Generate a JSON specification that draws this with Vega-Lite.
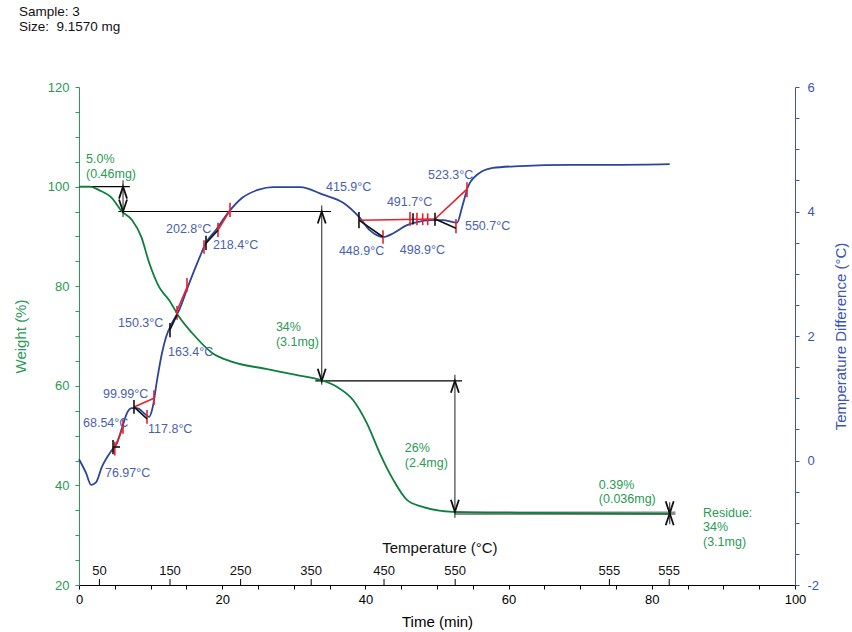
{
  "$schema": "https://vega.github.io/schema/vega-lite/v6.json",
  "width": 716,
  "height": 498,
  "autosize": {"type": "none"},
  "padding": {"left": 79, "top": 87, "right": 57, "bottom": 47},
  "background": "white",
  "config": {
    "view": {"stroke": null},
    "font": "Liberation Sans",
    "axis": {"grid": false, "labelFont": "Liberation Sans", "titleFont": "Liberation Sans", "titleFontWeight": "normal", "labelFontSize": 13, "titleFontSize": 15}
  },
  "datasets": {
    "weight": [
      {"t": 0, "w": 100}, {"t": 1.5, "w": 100}, {"t": 2.8, "w": 99.3}, {"t": 4.6, "w": 97.7}, {"t": 6.0, "w": 95.0},
      {"t": 7.4, "w": 93.3}, {"t": 8.7, "w": 89.9}, {"t": 9.8, "w": 84.7}, {"t": 11.2, "w": 79.8}, {"t": 12.6, "w": 77.2},
      {"t": 14.0, "w": 73.8}, {"t": 15.8, "w": 70.6}, {"t": 18.6, "w": 66.6}, {"t": 21.4, "w": 64.8}, {"t": 26.1, "w": 63.4},
      {"t": 30.3, "w": 62.2}, {"t": 33.9, "w": 61.1}, {"t": 36.0, "w": 59.8}, {"t": 38.3, "w": 57.1}, {"t": 40.2, "w": 52.5},
      {"t": 42.0, "w": 46.5}, {"t": 43.9, "w": 41.1}, {"t": 45.8, "w": 37.1}, {"t": 48.0, "w": 35.7}, {"t": 52.2, "w": 34.7},
      {"t": 61.6, "w": 34.5}, {"t": 82.5, "w": 34.3}
    ],
    "dta": [
      {"t": 0, "d": 0.02}, {"t": 0.98, "d": -0.2}, {"t": 1.68, "d": -0.39}, {"t": 2.37, "d": -0.35}, {"t": 3.21, "d": -0.1},
      {"t": 4.61, "d": 0.17}, {"t": 5.31, "d": 0.28}, {"t": 6.0, "d": 0.52}, {"t": 6.7, "d": 0.76}, {"t": 7.4, "d": 0.84},
      {"t": 8.1, "d": 0.84}, {"t": 9.08, "d": 0.76}, {"t": 9.78, "d": 0.7}, {"t": 10.3, "d": 0.86}, {"t": 10.9, "d": 1.29},
      {"t": 11.6, "d": 1.73}, {"t": 12.15, "d": 1.98}, {"t": 13.0, "d": 2.21}, {"t": 14.0, "d": 2.42}, {"t": 15.4, "d": 2.85},
      {"t": 16.8, "d": 3.25}, {"t": 17.7, "d": 3.49}, {"t": 19.1, "d": 3.7}, {"t": 20.9, "d": 3.99}, {"t": 22.8, "d": 4.22},
      {"t": 25.1, "d": 4.35}, {"t": 27.1, "d": 4.39}, {"t": 30.9, "d": 4.39}, {"t": 34.1, "d": 4.27}, {"t": 36.9, "d": 4.14},
      {"t": 39.2, "d": 3.9}, {"t": 40.6, "d": 3.7}, {"t": 42.5, "d": 3.59}, {"t": 43.9, "d": 3.65}, {"t": 45.8, "d": 3.78},
      {"t": 47.2, "d": 3.83}, {"t": 49.0, "d": 3.86}, {"t": 50.8, "d": 3.86}, {"t": 52.8, "d": 3.82}, {"t": 53.5, "d": 4.07},
      {"t": 54.3, "d": 4.39}, {"t": 55.6, "d": 4.59}, {"t": 57.8, "d": 4.7}, {"t": 61.6, "d": 4.73}, {"t": 68.6, "d": 4.75},
      {"t": 75.6, "d": 4.75}, {"t": 82.5, "d": 4.76}
    ],
    "wseg": [
      {"t": 0, "t2": 7.1, "w": 100, "w2": 100, "kind": "h"},
      {"t": 5.5, "t2": 35.2, "w": 95, "w2": 95, "kind": "h"},
      {"t": 33.0, "t2": 53.5, "w": 61.0, "w2": 61.0, "kind": "h"},
      {"t": 6.15, "t2": 6.15, "w": 101.3, "w2": 93.9, "kind": "v"},
      {"t": 33.9, "t2": 33.9, "w": 96.2, "w2": 60.2, "kind": "v"},
      {"t": 52.5, "t2": 52.5, "w": 62.2, "w2": 33.5, "kind": "v"},
      {"t": 82.5, "t2": 82.5, "w": 36.6, "w2": 32.2, "kind": "v"}
    ],
    "resid": [
      {"t": 52.5, "t2": 83.3, "w": 34.4, "w2": 34.4}
    ],
    "arrows": [
      {"t": 6.15, "w": 100, "dir": "up"}, {"t": 6.15, "w": 95, "dir": "down"},
      {"t": 33.9, "w": 95, "dir": "up"}, {"t": 33.9, "w": 61, "dir": "down"},
      {"t": 52.5, "w": 61, "dir": "up"}, {"t": 52.5, "w": 34.7, "dir": "down"},
      {"t": 82.5, "w": 34.4, "dir": "up"}, {"t": 82.5, "w": 34.4, "dir": "down"}
    ],
    "glabels": [
      {"t": 0.98, "w": 105.5, "label": ["5.0%", "(0.46mg)"]},
      {"t": 27.5, "w": 71.8, "label": ["34%", "(3.1mg)"]},
      {"t": 45.5, "w": 47.5, "label": ["26%", "(2.4mg)"]},
      {"t": 72.6, "w": 40.1, "label": ["0.39%", "(0.036mg)"]},
      {"t": 87.15, "w": 34.5, "label": ["Residue:", "34%", "(3.1mg)"]}
    ],
    "header": [
      {"t": -8.38, "w": 135.06, "label": ["Sample: 3", "Size:\u00a0 9.1570 mg"]}
    ],
    "temp": [
      {"t": 2.85, "label": "50", "w": 22.8}, {"t": 12.71, "label": "150", "w": 22.8}, {"t": 22.57, "label": "250", "w": 22.8},
      {"t": 32.43, "label": "350", "w": 22.8}, {"t": 42.6, "label": "450", "w": 22.8}, {"t": 52.54, "label": "550", "w": 22.8},
      {"t": 74.08, "label": "555", "w": 22.8}, {"t": 82.43, "label": "555", "w": 22.8}
    ],
    "tempticks": [
      {"t": 2.85, "w": 20, "w2": 21.2}, {"t": 12.71, "w": 20, "w2": 21.2}, {"t": 22.57, "w": 20, "w2": 21.2},
      {"t": 32.43, "w": 20, "w2": 21.2}, {"t": 42.6, "w": 20, "w2": 21.2}, {"t": 52.54, "w": 20, "w2": 21.2},
      {"t": 74.08, "w": 20, "w2": 21.2}, {"t": 82.43, "w": 20, "w2": 21.2}
    ],
    "temptitle": [
      {"t": 50.4, "w": 27.4, "label": "Temperature (°C)"}
    ],
    "blabels": [
      {"t": 0.56, "d": 0.6, "label": "68.54°C"},
      {"t": 3.63, "d": -0.2, "label": "76.97°C"},
      {"t": 3.35, "d": 1.07, "label": "99.99°C"},
      {"t": 9.64, "d": 0.51, "label": "117.8°C"},
      {"t": 5.45, "d": 2.21, "label": "150.3°C"},
      {"t": 12.43, "d": 1.74, "label": "163.4°C"},
      {"t": 12.15, "d": 3.72, "label": "202.8°C"},
      {"t": 18.7, "d": 3.46, "label": "218.4°C"},
      {"t": 34.5, "d": 4.39, "label": "415.9°C"},
      {"t": 36.3, "d": 3.37, "label": "448.9°C"},
      {"t": 43.0, "d": 4.15, "label": "491.7°C"},
      {"t": 44.8, "d": 3.38, "label": "498.9°C"},
      {"t": 48.74, "d": 4.59, "label": "523.3°C"},
      {"t": 53.9, "d": 3.77, "label": "550.7°C"}
    ],
    "dseg": [
      {"t": 4.75, "t2": 6.28, "d": 0.137, "d2": 0.57, "kind": "r"},
      {"t": 7.68, "t2": 10.47, "d": 0.86, "d2": 1.0, "kind": "r"},
      {"t": 13.55, "t2": 15.22, "d": 2.37, "d2": 2.82, "kind": "r"},
      {"t": 19.41, "t2": 21.09, "d": 3.7, "d2": 4.02, "kind": "r"},
      {"t": 39.1, "t2": 49.72, "d": 3.86, "d2": 3.88, "kind": "r"},
      {"t": 49.72, "t2": 54.19, "d": 3.88, "d2": 4.36, "kind": "r"},
      {"t": 5.0, "t2": 5.0, "d": 0.08, "d2": 0.3, "kind": "r"},
      {"t": 6.14, "t2": 6.14, "d": 0.43, "d2": 0.66, "kind": "r"},
      {"t": 10.47, "t2": 10.47, "d": 0.89, "d2": 1.13, "kind": "r"},
      {"t": 9.5, "t2": 9.5, "d": 0.59, "d2": 0.81, "kind": "r"},
      {"t": 13.69, "t2": 13.69, "d": 2.26, "d2": 2.48, "kind": "r"},
      {"t": 15.08, "t2": 15.08, "d": 2.71, "d2": 2.93, "kind": "r"},
      {"t": 17.46, "t2": 17.46, "d": 3.32, "d2": 3.54, "kind": "r"},
      {"t": 19.41, "t2": 19.41, "d": 3.59, "d2": 3.82, "kind": "r"},
      {"t": 21.09, "t2": 21.09, "d": 3.91, "d2": 4.14, "kind": "r"},
      {"t": 42.46, "t2": 42.46, "d": 3.48, "d2": 3.7, "kind": "r"},
      {"t": 46.23, "t2": 46.23, "d": 3.77, "d2": 3.99, "kind": "r"},
      {"t": 47.2, "t2": 47.2, "d": 3.78, "d2": 3.98, "kind": "r"},
      {"t": 48.0, "t2": 48.0, "d": 3.78, "d2": 3.97, "kind": "r"},
      {"t": 48.7, "t2": 48.7, "d": 3.78, "d2": 3.97, "kind": "r"},
      {"t": 52.65, "t2": 52.65, "d": 3.65, "d2": 3.88, "kind": "r"},
      {"t": 54.19, "t2": 54.19, "d": 4.23, "d2": 4.47, "kind": "r"},
      {"t": 4.75, "t2": 5.73, "d": 0.217, "d2": 0.217, "kind": "k"},
      {"t": 4.75, "t2": 4.75, "d": 0.1, "d2": 0.33, "kind": "k"},
      {"t": 7.68, "t2": 7.68, "d": 0.75, "d2": 0.97, "kind": "k"},
      {"t": 7.68, "t2": 9.5, "d": 0.86, "d2": 0.67, "kind": "k"},
      {"t": 12.71, "t2": 12.71, "d": 1.98, "d2": 2.21, "kind": "k"},
      {"t": 12.71, "t2": 13.69, "d": 2.1, "d2": 2.34, "kind": "k"},
      {"t": 17.74, "t2": 17.74, "d": 3.38, "d2": 3.61, "kind": "k"},
      {"t": 17.74, "t2": 19.41, "d": 3.49, "d2": 3.7, "kind": "k"},
      {"t": 39.1, "t2": 39.1, "d": 3.73, "d2": 3.99, "kind": "k"},
      {"t": 39.1, "t2": 42.46, "d": 3.86, "d2": 3.59, "kind": "k"},
      {"t": 46.65, "t2": 46.65, "d": 3.79, "d2": 3.97, "kind": "k"},
      {"t": 49.72, "t2": 49.72, "d": 3.77, "d2": 3.98, "kind": "k"},
      {"t": 49.72, "t2": 52.65, "d": 3.88, "d2": 3.73, "kind": "k"}
    ]
  },
  "encoding": {
    "x": {
      "field": "t", "type": "quantitative",
      "scale": {"domain": [0, 100], "nice": false, "zero": false},
      "axis": {
        "title": "Time (min)",
        "values": [0, 5, 10, 15, 20, 25, 30, 35, 40, 45, 50, 55, 60, 65, 70, 75, 80, 85, 90, 95, 100],
        "labelExpr": "datum.value % 20 === 0 ? datum.label : ''",
        "labelFlush": false, "tickSize": 4, "labelPadding": 4, "titlePadding": 8,
        "domainColor": "#000", "tickColor": "#000", "labelColor": "#000", "titleColor": "#000"
      }
    }
  },
  "layer": [
    {
      "encoding": {
        "y": {
          "field": "w", "type": "quantitative",
          "scale": {"domain": [20, 120], "nice": false, "zero": false},
          "axis": {
            "orient": "left", "title": "Weight (%)",
            "values": [20, 25, 30, 35, 40, 45, 50, 55, 60, 65, 70, 75, 80, 85, 90, 95, 100, 105, 110, 115, 120],
            "labelExpr": "datum.value % 20 === 0 ? datum.label : ''",
            "tickSize": 4, "labelPadding": 6, "titlePadding": 19,
            "domainColor": "#2a9a55", "tickColor": "#2a9a55", "labelColor": "#2a9a55", "titleColor": "#2a9a55"
          }
        }
      },
      "layer": [
        {
          "data": {"name": "resid"},
          "mark": {"type": "rule", "color": "#8a8a8a", "strokeWidth": 3.5},
          "encoding": {"x2": {"field": "t2"}, "y2": {"field": "w2"}}
        },
        {
          "data": {"name": "wseg"},
          "transform": [{"filter": "datum.kind === 'h'"}],
          "mark": {"type": "rule", "color": "#000", "strokeWidth": 1.2},
          "encoding": {"x2": {"field": "t2"}, "y2": {"field": "w2"}}
        },
        {
          "data": {"name": "wseg"},
          "transform": [{"filter": "datum.kind === 'v'"}],
          "mark": {"type": "rule", "color": "#444", "strokeWidth": 1.2},
          "encoding": {"x2": {"field": "t2"}, "y2": {"field": "w2"}}
        },
        {
          "data": {"name": "weight"},
          "mark": {"type": "line", "color": "#0c7f3c", "strokeWidth": 1.8, "interpolate": "monotone"}
        },
        {
          "data": {"name": "arrows"},
          "transform": [{"filter": "datum.dir === 'up'"}],
          "mark": {"type": "point", "shape": "M-0.5,1.5L0,0L0.5,1.5", "filled": false, "stroke": "#111", "strokeWidth": 1.8, "size": 256, "opacity": 1}
        },
        {
          "data": {"name": "arrows"},
          "transform": [{"filter": "datum.dir === 'down'"}],
          "mark": {"type": "point", "shape": "M-0.5,-1.5L0,0L0.5,-1.5", "filled": false, "stroke": "#111", "strokeWidth": 1.8, "size": 256, "opacity": 1}
        },
        {
          "data": {"name": "glabels"},
          "mark": {"type": "text", "align": "left", "baseline": "middle", "fontSize": 12.5, "lineHeight": 14.5, "color": "#2a9a55", "font": "Liberation Sans"},
          "encoding": {"text": {"field": "label"}}
        },
        {
          "data": {"name": "header"},
          "mark": {"type": "text", "align": "left", "baseline": "middle", "fontSize": 13.5, "lineHeight": 15, "color": "#111", "font": "Liberation Sans"},
          "encoding": {"text": {"field": "label"}}
        },
        {
          "data": {"name": "temptitle"},
          "mark": {"type": "text", "align": "center", "baseline": "middle", "fontSize": 15, "color": "#111", "font": "Liberation Sans"},
          "encoding": {"text": {"field": "label"}}
        },
        {
          "data": {"name": "tempticks"},
          "mark": {"type": "rule", "color": "#000", "strokeWidth": 1},
          "encoding": {"y2": {"field": "w2"}}
        },
        {
          "data": {"name": "temp"},
          "mark": {"type": "text", "align": "center", "baseline": "middle", "fontSize": 13, "color": "#111", "font": "Liberation Sans"},
          "encoding": {"text": {"field": "label"}}
        }
      ]
    },
    {
      "encoding": {
        "y": {
          "field": "d", "type": "quantitative",
          "scale": {"domain": [-2, 6], "nice": false, "zero": false},
          "axis": {
            "orient": "right", "title": "Temperature Difference (°C)",
            "values": [-2, -1.5, -1, -0.5, 0, 0.5, 1, 1.5, 2, 2.5, 3, 3.5, 4, 4.5, 5, 5.5, 6],
            "labelExpr": "datum.value % 2 === 0 ? '' + datum.value : ''",
            "tickSize": 4, "labelPadding": 8, "titlePadding": 15, "titleAngle": 270, "titleBaseline": "top",
            "domainColor": "#3a55b5", "tickColor": "#3a55b5", "labelColor": "#3a55b5", "titleColor": "#3a55b5"
          }
        }
      },
      "layer": [
        {
          "data": {"name": "dta"},
          "mark": {"type": "line", "color": "#2b459c", "strokeWidth": 1.8, "interpolate": "monotone"}
        },
        {
          "data": {"name": "dseg"},
          "transform": [{"filter": "datum.kind === 'r'"}],
          "mark": {"type": "rule", "color": "#e8202a", "strokeWidth": 1.6},
          "encoding": {"x2": {"field": "t2"}, "y2": {"field": "d2"}}
        },
        {
          "data": {"name": "dseg"},
          "transform": [{"filter": "datum.kind === 'k'"}],
          "mark": {"type": "rule", "color": "#111", "strokeWidth": 1.6},
          "encoding": {"x2": {"field": "t2"}, "y2": {"field": "d2"}}
        },
        {
          "data": {"name": "blabels"},
          "mark": {"type": "text", "align": "left", "baseline": "middle", "fontSize": 12.5, "color": "#4a5fb0", "font": "Liberation Sans"},
          "encoding": {"text": {"field": "label"}}
        }
      ]
    }
  ],
  "resolve": {"scale": {"y": "independent"}}
}
